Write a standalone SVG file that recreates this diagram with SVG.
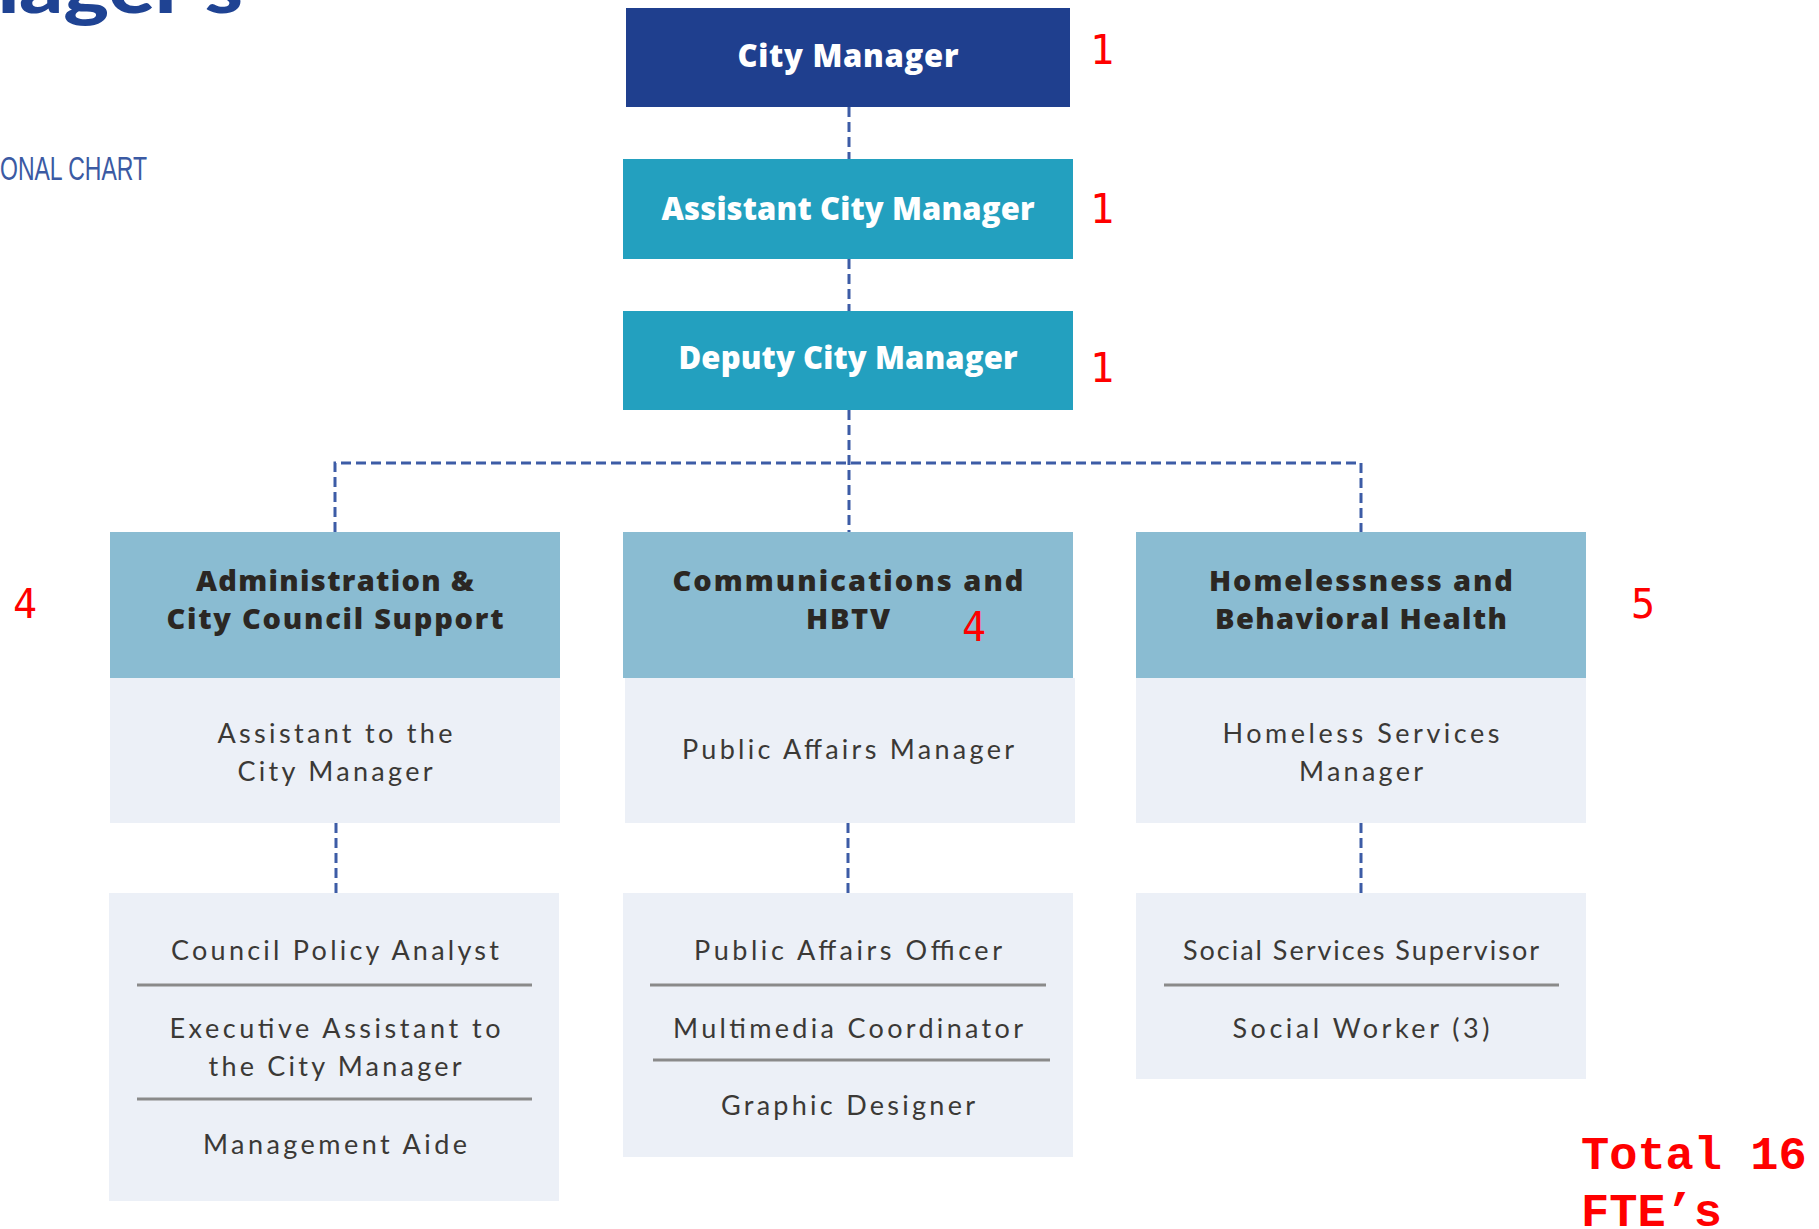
<svg xmlns="http://www.w3.org/2000/svg" width="1819" height="1229" viewBox="0 0 1819 1229">
<style>
.top{font-family:"Open Sans",Lato,sans-serif;font-weight:800;fill:#fff;text-anchor:middle;dominant-baseline:central}
.hd{font-family:"Open Sans",Lato,sans-serif;font-weight:800;fill:#2b2723;font-size:29px;text-anchor:middle;dominant-baseline:central}
.bd{font-family:Lato,"Open Sans",sans-serif;font-weight:400;fill:#3b3936;font-size:27px;text-anchor:middle;dominant-baseline:central}
.red{font-family:"DejaVu Sans Mono",monospace;fill:#ff0000;font-size:40px;dominant-baseline:central}
.tot{font-family:"Liberation Mono","Courier New",monospace;font-weight:700;fill:#ff0000;font-size:47px}
.con{fill:none;stroke:#3d5ca6;stroke-width:3;stroke-dasharray:10 5}
.sep{stroke:#8a8a8a;stroke-width:3}
.hdr{fill:#8abcd2}
.body{fill:#ecf0f7}
</style>
<rect width="1819" height="1229" fill="#fff"/>
<g id="title">
<text x="-30" y="13" font-family="Lato,'Open Sans',sans-serif" font-weight="900" font-size="70" fill="#1f4393" textLength="273" lengthAdjust="spacingAndGlyphs">nager's</text>
<text x="0" y="180" font-family="'Liberation Sans',sans-serif" font-size="34" fill="#3b5aa3" textLength="147" lengthAdjust="spacingAndGlyphs">ONAL CHART</text>
</g>
<g id="connectors">
<line class="con" x1="849" y1="107" x2="849" y2="159" stroke="#1f3f8a"/>
<line class="con" x1="849" y1="259" x2="849" y2="311"/>
<line class="con" x1="849" y1="410" x2="849" y2="532"/>
<path class="con" d="M335 532 V463 H1361 V532"/>
<line class="con" x1="336" y1="823" x2="336" y2="893"/>
<line class="con" x1="848" y1="823" x2="848" y2="893"/>
<line class="con" x1="1361" y1="823" x2="1361" y2="893"/>
</g>
<g id="city-manager">
<rect x="626" y="8" width="444" height="99" fill="#1f3f8e"/>
<text class="top" x="848" y="55" font-size="31" textLength="221">City Manager</text>
</g>
<g id="assistant-city-manager">
<rect x="623" y="159" width="450" height="100" fill="#23a0bf"/>
<text class="top" x="848" y="208" font-size="31" textLength="373">Assistant City Manager</text>
</g>
<g id="deputy-city-manager">
<rect x="623" y="311" width="450" height="99" fill="#23a0bf"/>
<text class="top" x="848" y="357" font-size="31" textLength="339">Deputy City Manager</text>
</g>
<g id="admin">
<rect class="hdr" x="110" y="532" width="450" height="146"/>
<text class="hd" x="335" y="579" textLength="278">Administration &amp;</text>
<text class="hd" x="335" y="617" textLength="337">City Council Support</text>
<rect class="body" x="110" y="678" width="450" height="145"/>
<text class="bd" x="335" y="732" textLength="235">Assistant to the</text>
<text class="bd" x="335" y="770" textLength="195">City Manager</text>
</g>
<g id="comm">
<rect class="hdr" x="623" y="532" width="450" height="146"/>
<text class="hd" x="848" y="579" textLength="351">Communications and</text>
<text class="hd" x="848" y="617" textLength="84">HBTV</text>
<rect class="body" x="625" y="678" width="450" height="145"/>
<text class="bd" x="848" y="748" textLength="332">Public Affairs Manager</text>
</g>
<g id="homeless">
<rect class="hdr" x="1136" y="532" width="450" height="146"/>
<text class="hd" x="1361" y="579" textLength="304">Homelessness and</text>
<text class="hd" x="1361" y="617" textLength="292">Behavioral Health</text>
<rect class="body" x="1136" y="678" width="450" height="145"/>
<text class="bd" x="1361" y="732" textLength="277">Homeless Services</text>
<text class="bd" x="1361" y="770" textLength="124">Manager</text>
</g>
<g id="admin-staff">
<rect class="body" x="109" y="893" width="450" height="308"/>
<text class="bd" x="335" y="949" textLength="328">Council Policy Analyst</text>
<line class="sep" x1="137" y1="985" x2="532" y2="985"/>
<text class="bd" x="335" y="1027" textLength="331">Executive Assistant to</text>
<text class="bd" x="335" y="1065" textLength="253">the City Manager</text>
<line class="sep" x1="137" y1="1099" x2="532" y2="1099"/>
<text class="bd" x="335" y="1143" textLength="264">Management Aide</text>
</g>
<g id="comm-staff">
<rect class="body" x="623" y="893" width="450" height="264"/>
<text class="bd" x="848" y="949" textLength="308">Public Affairs Officer</text>
<line class="sep" x1="650" y1="985" x2="1046" y2="985"/>
<text class="bd" x="848" y="1027" textLength="350">Multimedia Coordinator</text>
<line class="sep" x1="653" y1="1060" x2="1050" y2="1060"/>
<text class="bd" x="848" y="1104" textLength="254">Graphic Designer</text>
</g>
<g id="homeless-staff">
<rect class="body" x="1136" y="893" width="450" height="186"/>
<text class="bd" x="1361" y="949" textLength="356">Social Services Supervisor</text>
<line class="sep" x1="1164" y1="985" x2="1559" y2="985"/>
<text class="bd" x="1361" y="1027" textLength="257">Social Worker (3)</text>
</g>
<g id="fte">
<text class="red" x="1090" y="50">1</text>
<text class="red" x="1090" y="209">1</text>
<text class="red" x="1090" y="368">1</text>
<text class="red" x="13" y="604">4</text>
<text class="red" x="962" y="627">4</text>
<text class="red" x="1631" y="604">5</text>
<text class="tot" x="1581" y="1169">Total 16</text>
<text class="tot" x="1581" y="1226">FTE’s</text>
</g>
</svg>
